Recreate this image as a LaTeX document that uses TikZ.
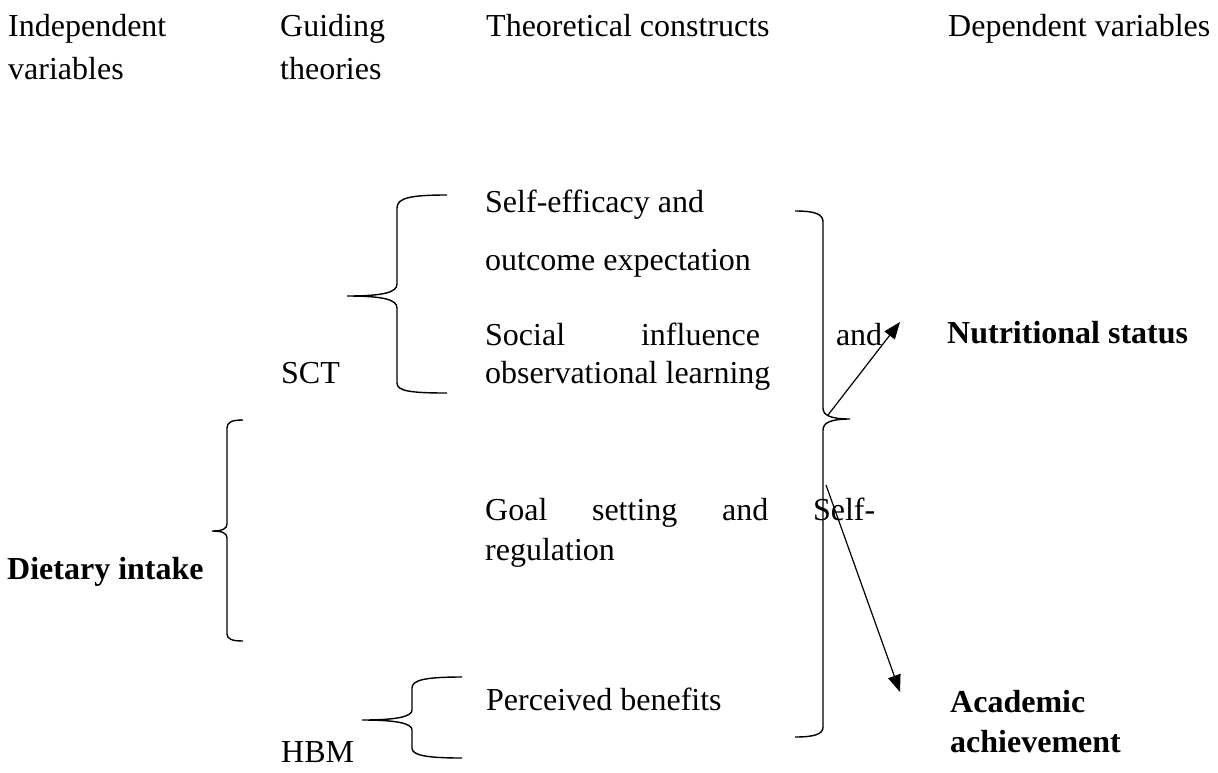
\documentclass[tikz,border=0pt]{standalone}
\usepackage{fontspec}
\setmainfont{Liberation Serif}
\usetikzlibrary{arrows.meta}
\tikzset{
  txt/.style={anchor=base west, inner sep=0pt, font=\fontsize{32pt}{38pt}\selectfont},
  boldtxt/.style={anchor=base west, inner sep=0pt, font=\fontsize{32pt}{38pt}\selectfont\bfseries},
  brace/.style={line width=1.4pt},
  arr/.style={line width=1.2pt, -{Triangle[length=17pt,width=13pt]}}
}
\begin{document}
\begin{tikzpicture}[x=1pt,y=-1pt]
\useasboundingbox (0,0) rectangle (1218,772);
% header
\node[txt] (iv1) at (8,36) {Independent};
\node[txt] (iv2) at (8,79) {variables};
\node[txt] (gt1) at (280,36) {Guiding};
\node[txt] (gt2) at (280,79) {theories};
\node[txt] (tc) at (486,36) {Theoretical constructs};
\node[txt] (dv) at (948,36) {Dependent variables};
% constructs
\node[txt] (c1) at (485,212) {Self-efficacy and};
\node[txt] (c2) at (485,270) {outcome expectation};
\node[txt] (c3) at (485,345) {\makebox[397pt][s]{Social influence and}};
\node[txt] (c4) at (485,383) {observational learning};
\node[txt] (sct) at (281,383) {SCT};
\node[boldtxt] (ns) at (947,343) {Nutritional status};
\node[txt] (c5) at (485,520) {\makebox[390pt][s]{Goal setting and Self-}};
\node[txt] (c6) at (485,560) {regulation};
\node[boldtxt] (di) at (7,579) {Dietary intake};
\node[txt] (pb) at (486,710) {Perceived benefits};
\node[txt] (hbm) at (281,762) {HBM};
\node[boldtxt] (aa1) at (950,712) {Academic};
\node[boldtxt] (aa2) at (950,752) {achievement};
% braces
\draw[brace] (447,195) .. controls (410,195) and (397,198) .. (397,208) -- (397,284)
  .. controls (397,292) and (385,296) .. (347,296)
  .. controls (385,296) and (397,300) .. (397,308) -- (397,383)
  .. controls (397,391) and (410,393) .. (447,393);
\draw[brace] (795,211) .. controls (815,211) and (823,214) .. (823,222) -- (823,408)
  .. controls (823,415) and (830,419) .. (850,419)
  .. controls (830,419) and (823,423) .. (823,430) -- (823,727)
  .. controls (823,734) and (815,737) .. (795,737);
\draw[brace] (243,420) .. controls (232,420) and (227,422) .. (227,428) -- (227,524)
  .. controls (227,529) and (222,531) .. (212,531)
  .. controls (222,531) and (227,533) .. (227,538) -- (227,634)
  .. controls (227,639) and (232,641) .. (243,641);
\draw[brace] (462,677) .. controls (425,677) and (412,680) .. (412,688) -- (412,710)
  .. controls (412,717) and (395,720) .. (362,720)
  .. controls (395,720) and (412,723) .. (412,730) -- (412,748)
  .. controls (412,755) and (425,758) .. (462,758);
% arrows
\coordinate (a1s) at (828,415);
\coordinate (a1e) at (900,322);
\coordinate (a2s) at (826,485);
\coordinate (a2e) at (900,692);
\draw[arr] (a1s) -- (a1e);
\draw[arr] (a2s) -- (a2e);
\end{tikzpicture}
\end{document}
